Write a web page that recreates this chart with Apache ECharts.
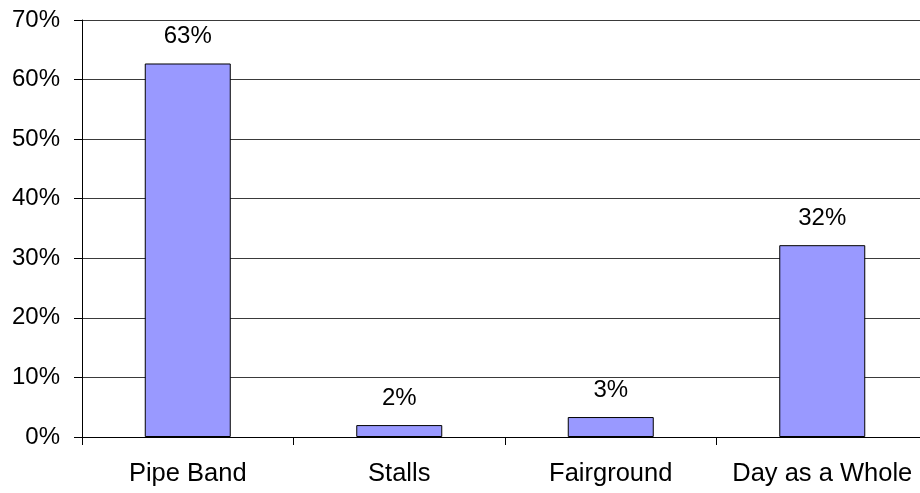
<!DOCTYPE html>
<html>
<head>
<meta charset="utf-8">
<script src="https://cdn.jsdelivr.net/npm/echarts@6/dist/echarts.min.js"></script>
<style>
html,body{margin:0;padding:0;background:#fff;overflow:hidden;width:920px;height:493px;}
#chart{width:928px;height:493px;}
</style>
</head>
<body>
<div id="chart"></div>
<script>
var categories = ['Pipe Band', 'Stalls', 'Fairground', 'Day as a Whole'];
var values = [62.7, 2.0, 3.35, 32.2];
var yTicks = { min: 0, max: 70, interval: 10 };

var chart = echarts.init(document.getElementById('chart'));
var fontFamily = 'Liberation Sans, Arial, sans-serif';
chart.setOption({
  animation: false,
  backgroundColor: '#ffffff',
  grid: { left: 82, right: 0, top: 20, bottom: 56, containLabel: false },
  xAxis: {
    type: 'category',
    data: categories,
    boundaryGap: true,
    axisLine: { show: true, lineStyle: { color: '#000', width: 1 } },
    axisTick: { show: true, length: 8, interval: 0, alignWithLabel: false, lineStyle: { color: '#000' } },
    axisLabel: { color: '#000', fontSize: 25.5, fontFamily: fontFamily, margin: 24, interval: 0, hideOverlap: false },
    splitLine: { show: false }
  },
  yAxis: {
    type: 'value',
    min: yTicks.min,
    max: yTicks.max,
    interval: yTicks.interval,
    axisLine: { show: true, lineStyle: { color: '#000', width: 1 } },
    axisTick: { show: true, length: 8, lineStyle: { color: '#000' } },
    axisLabel: { color: '#000', fontSize: 24, fontFamily: fontFamily, margin: 22, formatter: '{value}%' },
    splitLine: { show: true, lineStyle: { color: '#3a3a3a', width: 1 } }
  },
  series: [{
    type: 'bar',
    data: values,
    barWidth: 86,
    itemStyle: { color: '#9999ff', borderColor: '#000', borderWidth: 1 },
    label: {
      show: true,
      position: 'top',
      distance: 15,
      color: '#000',
      fontSize: 24,
      fontFamily: fontFamily,
      formatter: function (p) { return Math.round(p.value) + '%'; }
    }
  }]
});
</script>
</body>
</html>
